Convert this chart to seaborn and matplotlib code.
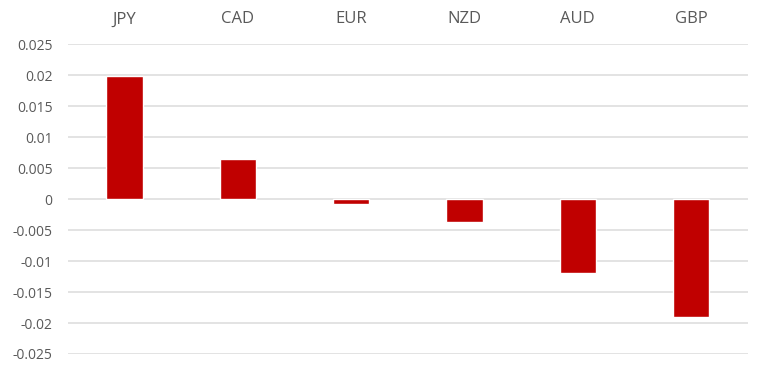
import pandas as pd
import matplotlib
matplotlib.use("Agg")
import matplotlib.pyplot as plt
import seaborn as sns

# currencies and their values
currencies = ["JPY", "CAD", "EUR", "NZD", "AUD", "GBP"]
values = [0.0198, 0.0064, -0.0008, -0.0037, -0.0120, -0.0191]
y_ticks = [-0.025, -0.02, -0.015, -0.01, -0.005, 0, 0.005, 0.01, 0.015, 0.02, 0.025]
y_labels = ["-0.025", "-0.02", "-0.015", "-0.01", "-0.005", "0",
            "0.005", "0.01", "0.015", "0.02", "0.025"]

sns.set_theme(style="white")
plt.rcParams["font.family"] = ["Open Sans", "DejaVu Sans"]

df = pd.DataFrame({"currency": currencies, "value": values})

fig = plt.figure(figsize=(7.68, 3.74), dpi=100)
ax = fig.add_axes([0.0885, 0.0535, 0.885, 0.8285])

sns.barplot(data=df, x="currency", y="value", color="#C00000",
            width=0.32, saturation=1, ax=ax, zorder=3)

ax.set_ylim(-0.025, 0.025)
ax.set_yticks(y_ticks)
ax.set_yticklabels(y_labels)
ax.grid(axis="y", color="#dedede", linewidth=1.2, zorder=0)
ax.set_axisbelow(True)

ax.xaxis.tick_top()
ax.tick_params(axis="x", length=0, pad=12, labelsize=12, labelcolor="#595959")
ax.tick_params(axis="y", length=0, pad=11, labelsize=10, labelcolor="#595959")
ax.set_xlabel("")
ax.set_ylabel("")
for s in ax.spines.values():
    s.set_visible(False)

fig.savefig("out.png", dpi=100)
